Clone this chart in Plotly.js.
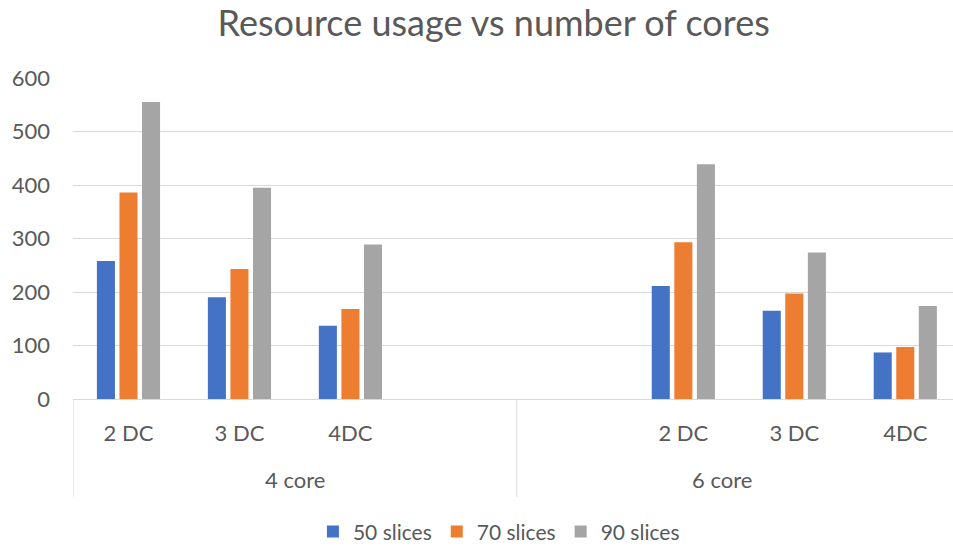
<!DOCTYPE html>
<html><head><meta charset="utf-8">
<script src="https://cdn.plot.ly/plotly-3.0.1.min.js"></script>
<style>html,body{margin:0;padding:0;background:#fff}#chart{width:953px;height:548px}</style>
</head><body><div id="chart"></div>
<script>
const subLabels = ["2 DC","3 DC","4DC","","","2 DC","3 DC","4DC"];
const groupLabels = ["4 core","4 core","4 core","4 core","6 core","6 core","6 core","6 core"];
const seriesNames = ["50 slices","70 slices","90 slices"];
const slices50 = [258,190,137,null,null,211,165,87];
const slices70 = [386,243,168,null,null,293,197,97];
const slices90 = [555,395,289,null,null,439,274,174];
const colors = ["#4472C4","#ED7D31","#A5A5A5"];

const idx = subLabels.map((_, i) => i);
const font = "Lato, 'Open Sans', sans-serif";
const txt = "#595959";
const grid = "#d9d9d9";

const traces = [slices50, slices70, slices90].map((vals, k) => ({
  type: "bar", x: idx, y: vals, name: seriesNames[k],
  marker: {color: colors[k]}, hoverinfo: "x+y+name"
}));

// group spans
const groups = [];
groupLabels.forEach((g, i) => {
  const last = groups[groups.length - 1];
  if (last && last.name === g) last.end = i; else groups.push({name: g, start: i, end: i});
});

const shapes = [];
const annotations = [];
groups.forEach((g, gi) => {
  shapes.push({type: "line", xref: "x", yref: "paper", x0: g.start - 0.5, x1: g.start - 0.5,
    y0: 0, y1: -0.305, line: {color: grid, width: 1}});
  annotations.push({xref: "x", yref: "paper", x: gi === 0 ? (g.start + g.end) / 2 : (g.start + g.end) / 2 - 0.15,
    y: -0.252, text: g.name, showarrow: false, font: {family: font, size: 22, color: txt},
    xanchor: "center", yanchor: "middle"});
});

const layout = {
  width: 953, height: 548,
  margin: {l: 73, r: 0, t: 78, b: 149, autoexpand: false},
  paper_bgcolor: "#fff", plot_bgcolor: "#fff",
  title: {text: "Resource usage vs number of cores", x: 0.518, xanchor: "center", y: 0.958, yanchor: "middle",
    font: {family: font, size: 36, color: txt}},
  barmode: "group", bargap: 0.39, bargroupgap: 0.2,
  xaxis: {type: "linear", range: [-0.5, 7.43], tickmode: "array", tickvals: idx, ticktext: subLabels,
    showgrid: false, zeroline: false, showline: true, linecolor: grid, linewidth: 1,
    ticks: "", ticklabelstandoff: 15, automargin: false,
    tickfont: {family: font, size: 22, color: txt}, fixedrange: true},
  yaxis: {range: [0, 600], dtick: 100, showgrid: true, gridcolor: grid, gridwidth: 1,
    zeroline: false, showline: false, ticks: "", ticklabelstandoff: 22, automargin: false,
    tickfont: {family: font, size: 22, color: txt}, fixedrange: true},
  legend: {orientation: "h", x: 0.484, xanchor: "center", y: -0.414, yanchor: "middle",
    font: {family: font, size: 21, color: txt}, itemwidth: 30, traceorder: "normal"},
  shapes: shapes,
  annotations: annotations
};

Plotly.newPlot("chart", traces, layout, {displayModeBar: false, staticPlot: true});
</script>
</body></html>
